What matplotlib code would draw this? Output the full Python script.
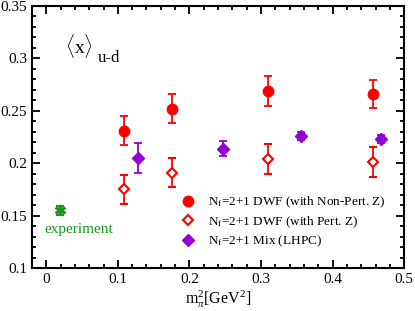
import matplotlib
matplotlib.use('Agg')
import matplotlib.pyplot as plt
from matplotlib.ticker import MultipleLocator

plt.rcParams['font.family'] = ['Liberation Serif', 'DejaVu Serif']
plt.rcParams['mathtext.fontset'] = 'custom'
plt.rcParams['mathtext.rm'] = 'Liberation Serif'
plt.rcParams['mathtext.it'] = 'Liberation Serif:italic'

# N_f=2+1 DWF, non-perturbative Z
np_x = [0.109, 0.175, 0.310, 0.456]
np_y = [0.231, 0.252, 0.269, 0.266]
np_err = [0.014, 0.014, 0.014, 0.013]
# N_f=2+1 DWF, perturbative Z
pt_x = [0.109, 0.175, 0.310, 0.456]
pt_y = [0.175, 0.191, 0.204, 0.201]
pt_err = [0.014, 0.014, 0.014, 0.014]
# N_f=2+1 mixed action (LHPC)
lh_x = [0.128, 0.247, 0.356, 0.467]
lh_y = [0.205, 0.214, 0.226, 0.223]
lh_err = [0.014, 0.007, 0.004, 0.004]
# experiment
ex_x = [0.0195]
ex_y = [0.155]
ex_err = [0.004]

red = '#ff0000'; purple = '#9400d3'; green = '#1a961a'

fig = plt.figure(figsize=(4.15, 3.11), dpi=100)
ax = fig.add_axes([0.077, 0.138, 0.897, 0.843])

c1 = ax.errorbar(np_x, np_y, yerr=np_err, fmt='o', color=red, ms=7.5, capsize=3, elinewidth=1.3, capthick=1.3)
c2 = ax.errorbar(pt_x, pt_y, yerr=pt_err, fmt='D', color=red, mfc='white', mec=red, mew=1.5, ms=5.5, capsize=3,
                 elinewidth=1.3, capthick=1.3)
c3 = ax.errorbar(lh_x, lh_y, yerr=lh_err, fmt='D', color=purple, ms=6.5, capsize=3, elinewidth=1.3, capthick=1.3)
ax.errorbar(ex_x, ex_y, yerr=ex_err, fmt='none', ecolor=green, capsize=3, elinewidth=1.5, capthick=1.5)
ax.plot(ex_x, ex_y, linestyle='none', marker=(6, 2, 0), color=green, ms=8, mew=2)
ax.text(0.045, 0.137, 'experiment', color=green, fontsize=11, ha='center', va='center')

ax.text(0.026, 0.3115, r'$\langle\mathrm{x}\rangle$', fontsize=14, ha='left', va='center')
ax.text(0.0715, 0.2962, 'u-d', fontsize=12, ha='left', va='baseline')

ax.set_xlim(-0.02, 0.5)
ax.set_ylim(0.1, 0.35)
ax.xaxis.set_major_locator(MultipleLocator(0.1))
ax.xaxis.set_minor_locator(MultipleLocator(0.02))
ax.yaxis.set_major_locator(MultipleLocator(0.05))
ax.yaxis.set_minor_locator(MultipleLocator(0.01))
ax.xaxis.set_major_formatter(plt.FuncFormatter(lambda v, p: '0' if abs(v) < 1e-9 else f'{v:g}'))
ax.yaxis.set_major_formatter(plt.FuncFormatter(lambda v, p: f'{v:g}'))
ax.tick_params(which='both', direction='in', top=True, right=True, labelsize=11, width=1.3)
ax.tick_params(which='major', length=6)
ax.tick_params(which='minor', length=3)
for s in ax.spines.values():
    s.set_linewidth(1.5)
ax.set_xlabel(r'm$_\pi^2$[GeV$^2$]', fontsize=11.5, labelpad=2)

labels = [r'N$_\mathrm{f}$=2+1 DWF (with Non-Pert. Z)',
          r'N$_\mathrm{f}$=2+1 DWF (with Pert. Z)',
          r'N$_\mathrm{f}$=2+1 Mix (LHPC)']
ax.legend([c1[0], c2[0], c3[0]], labels, loc='upper left', bbox_to_anchor=(0.385, 0.30), frameon=False,
          fontsize=9.5, handletextpad=0.95, labelspacing=0.3, handlelength=1.1, borderaxespad=0)

fig.savefig('out.png', dpi=100)
